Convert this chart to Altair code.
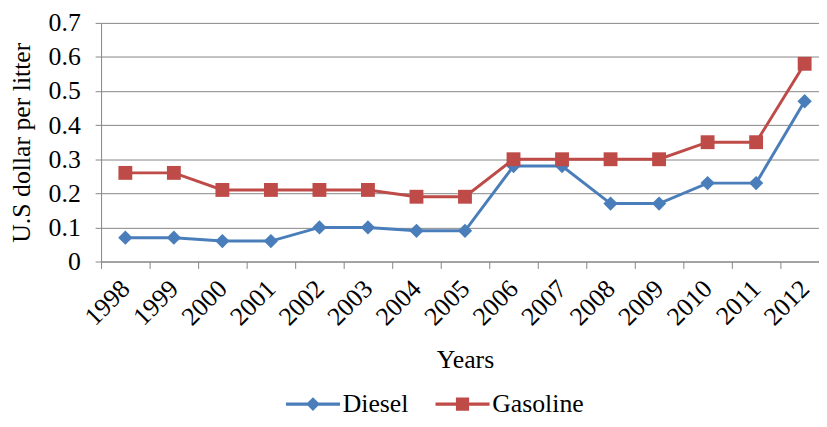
import altair as alt
import pandas as pd

years = ["1998", "1999", "2000", "2001", "2002", "2003", "2004", "2005",
         "2006", "2007", "2008", "2009", "2010", "2011", "2012"]
diesel = [0.07, 0.07, 0.06, 0.06, 0.10, 0.10, 0.09, 0.09,
          0.28, 0.28, 0.17, 0.17, 0.23, 0.23, 0.47]
gasoline = [0.26, 0.26, 0.21, 0.21, 0.21, 0.21, 0.19, 0.19,
            0.30, 0.30, 0.30, 0.30, 0.35, 0.35, 0.58]
series_names = ["Diesel", "Gasoline"]
y_ticks = [0, 0.1, 0.2, 0.3, 0.4, 0.5, 0.6, 0.7]

BLUE = "#4A7EBB"
RED = "#BE4B48"
GRAY = "#868686"
FONT = "Liberation Serif"

rows = []
for name, vals in zip(series_names, [diesel, gasoline]):
    for yr, v in zip(years, vals):
        rows.append({"Year": yr, "Series": name, "Value": v, "Hidden": -1.0})
df = pd.DataFrame(rows)

x_axis = alt.Axis(
    title="Years", labelAngle=-45, labelAlign="right", labelBaseline="middle",
    labelFont=FONT, labelFontSize=26, labelColor="black", labelPadding=16,
    titleFont=FONT, titleFontSize=26, titleFontWeight="normal", titleColor="black",
    titlePadding=17, tickBand="extent", tickSize=7, tickColor=GRAY,
    domainColor=GRAY, grid=False,
)
y_axis = alt.Axis(
    title="U.S dollar per litter", values=y_ticks, format="~g",
    labelFont=FONT, labelFontSize=26, labelColor="black", labelPadding=15,
    titleFont=FONT, titleFontSize=26, titleFontWeight="normal", titleColor="black",
    titlePadding=14, tickSize=6, tickColor=GRAY, domainColor=GRAY,
    grid=True, gridColor=GRAY, gridWidth=1,
)
x_scale = alt.Scale(domain=years, range=[0, 735], paddingInner=0, paddingOuter=0)
y_scale = alt.Scale(domain=[0, 0.7], nice=False, zero=True)

X = alt.X("Year:N", sort=years, scale=x_scale, axis=x_axis)
Y = alt.Y("Value:Q", scale=y_scale, axis=y_axis)

base = alt.Chart(df).encode(x=X, y=Y)

d_line = base.transform_filter(alt.datum.Series == "Diesel").mark_line(color=BLUE, strokeWidth=3)
g_line = base.transform_filter(alt.datum.Series == "Gasoline").mark_line(color=RED, strokeWidth=3)
d_pts = base.transform_filter(alt.datum.Series == "Diesel").mark_point(
    shape="diamond", filled=True, size=210, color=BLUE, opacity=1, strokeWidth=0)
g_pts = base.transform_filter(alt.datum.Series == "Gasoline").mark_point(
    shape="square", filled=True, size=196, color=RED, opacity=1, strokeWidth=0)

path_d = "M-3.9,-0.22L3.9,-0.22L3.9,0.22L-3.9,0.22Z M0,-1L1,0L0,1L-1,0Z"
path_g = "M-3.9,-0.22L3.9,-0.22L3.9,0.22L-3.9,0.22Z M-0.95,-0.95L0.95,-0.95L0.95,0.95L-0.95,0.95Z"

leg = alt.Legend(
    orient="none", legendX=201, legendY=372, direction="horizontal", title=None,
    labelFont=FONT, labelFontSize=26, labelColor="black", labelOffset=17,
    columnPadding=26, padding=0, labelLimit=300, symbolSize=196, symbolStrokeWidth=0,
)
legend_layer = base.mark_point(filled=True, size=196, opacity=1, clip=True, strokeWidth=0).encode(
    y=alt.Y("Hidden:Q", scale=y_scale, axis=y_axis),
    color=alt.Color("Series:N", scale=alt.Scale(domain=series_names, range=[BLUE, RED]), legend=leg),
    shape=alt.Shape("Series:N", scale=alt.Scale(domain=series_names, range=[path_d, path_g]), legend=leg),
)

chart = alt.layer(d_line, g_line, d_pts, g_pts, legend_layer).properties(
    width=717, height=241,
    autosize=alt.AutoSizeParams(type="none"),
    padding={"left": 94, "top": 13, "right": 8, "bottom": 157},
).configure(
    background="white", font=FONT,
).configure_view(
    stroke=None,
)

chart.save("out.html", embed_options={"renderer": "svg", "actions": False})
